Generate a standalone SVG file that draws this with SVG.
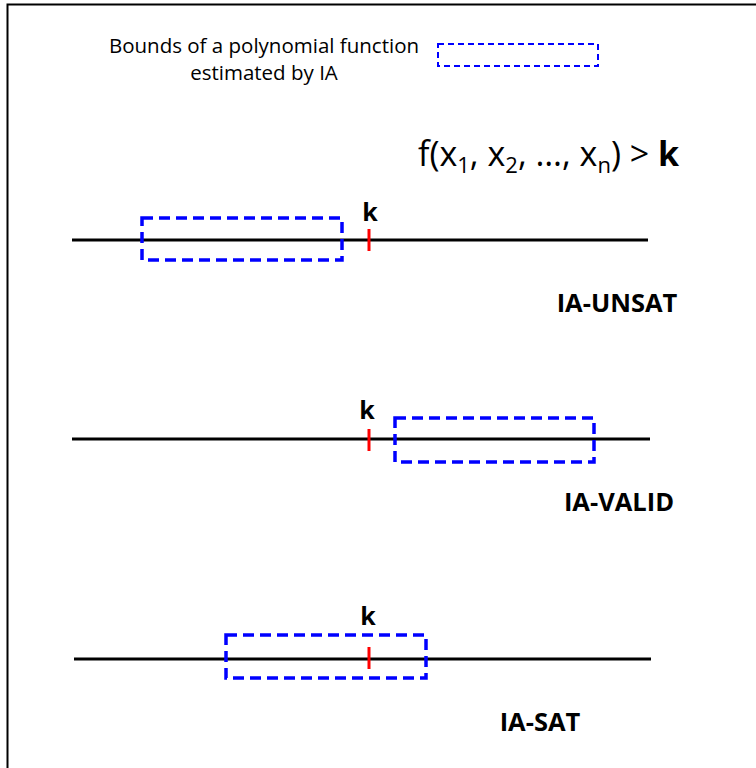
<svg xmlns="http://www.w3.org/2000/svg" width="756" height="768" viewBox="0 0 756 768">
<style>
text{font-family:"Open Sans","Liberation Sans",sans-serif;fill:#000}
.axis{stroke:#000;stroke-width:3}
.tick{stroke:#ff0000;stroke-width:3}
.bound{fill:none;stroke:#0000ff;stroke-width:3.5;stroke-dasharray:11 6}
.lbl{font-size:25.5px;font-weight:bold;text-anchor:middle}
.k{font-size:25px;font-weight:bold;text-anchor:middle}
</style>
<rect x="0" y="0" width="756" height="768" fill="#fff"/>
<rect x="7.5" y="4.5" width="760" height="780" fill="none" stroke="#000" stroke-width="2"/>
<g id="legend">
<text x="264" y="53" font-size="20.5" text-anchor="middle">Bounds of a polynomial function</text>
<text x="264" y="80" font-size="20.5" text-anchor="middle">estimated by IA</text>
<rect x="438" y="44" width="160" height="22" fill="none" stroke="#0000ff" stroke-width="2" stroke-dasharray="6 4"/>
</g>
<g id="formula">
<text x="418" y="166" font-size="34">f(x<tspan font-size="22" dy="7">1</tspan><tspan dy="-7">, x</tspan><tspan font-size="22" dy="7">2</tspan><tspan dy="-7">, …, x</tspan><tspan font-size="22" dy="7">n</tspan><tspan dy="-7">) &gt; </tspan><tspan font-weight="bold">k</tspan></text>
</g>
<g id="connectors">
<line class="axis" x1="72" y1="240" x2="648" y2="240"/>
<line class="axis" x1="72" y1="439" x2="650" y2="439"/>
<line class="axis" x1="74" y1="659" x2="651" y2="659"/>
</g>
<g id="unsat">
<rect class="bound" x="142" y="218" width="200" height="42"/>
<line class="tick" x1="369" y1="229" x2="369" y2="251"/>
<text class="k" x="370" y="221">k</text>
<text class="lbl" x="617" y="312">IA-UNSAT</text>
</g>
<g id="valid">
<rect class="bound" x="395" y="418" width="199" height="44"/>
<line class="tick" x1="369" y1="429" x2="369" y2="451"/>
<text class="k" x="367" y="419">k</text>
<text class="lbl" x="619" y="511">IA-VALID</text>
</g>
<g id="sat">
<rect class="bound" x="226" y="635" width="200" height="43"/>
<line class="tick" x1="369" y1="647" x2="369" y2="669"/>
<text class="k" x="368" y="625">k</text>
<text class="lbl" x="540" y="731">IA-SAT</text>
</g>
</svg>
